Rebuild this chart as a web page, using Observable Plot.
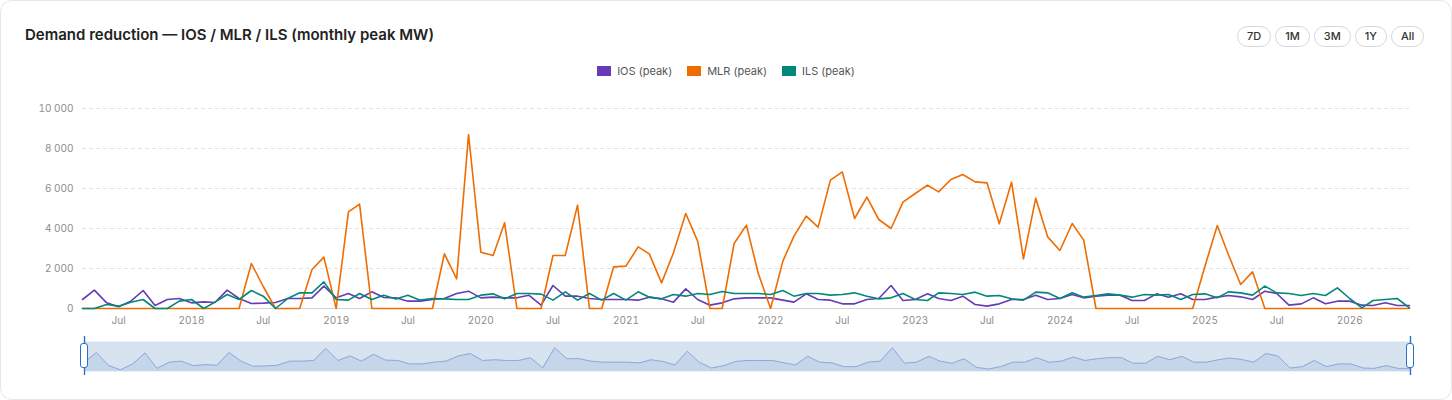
<!DOCTYPE html>
<html><head><meta charset="utf-8">
<script src="https://cdn.jsdelivr.net/npm/d3@7"></script>
<script src="https://cdn.jsdelivr.net/npm/@observablehq/plot@0.6"></script>
<style>
html,body{margin:0;padding:0;background:#fff;}
body{width:1452px;height:400px;overflow:hidden;font-family:Inter,"Noto Sans",sans-serif;position:relative;}
#card{position:absolute;left:0;top:0;width:1450px;height:398px;border:1px solid #e6e6e6;border-radius:12px;background:#fff;}
#title{position:absolute;left:25px;top:25px;font-size:15px;font-weight:600;color:#222;letter-spacing:0;}
#btns{position:absolute;left:1237px;top:26px;display:flex;gap:4px;}
.btn{height:19px;line-height:19px;padding:0 9px;border:1px solid #d6d6da;border-radius:11px;font-size:11px;color:#333;font-weight:500;}
#legend{position:absolute;top:64px;left:0;width:1452px;display:flex;justify-content:center;gap:15px;font-size:11px;color:#555;}
.sw{display:inline-block;width:14px;height:10px;margin-right:6px;vertical-align:-1px;}
#main{position:absolute;left:0;top:90px;}
#nav{position:absolute;left:0;top:334px;}
.handle{position:absolute;top:343px;width:6px;height:23px;background:#fff;border:1.5px solid #2a73c0;border-radius:3px;}
</style>
</head><body>
<div id="card"></div>
<div id="title">Demand reduction — IOS / MLR / ILS (monthly peak MW)</div>
<div id="btns"><div class="btn">7D</div><div class="btn">1M</div><div class="btn">3M</div><div class="btn">1Y</div><div class="btn">All</div></div>
<div id="legend"></div>
<div id="main"></div>
<div id="nav"></div>
<div class="handle" style="left:80px"></div>
<div class="handle" style="left:1406px"></div>
<script>
// ---- data (monthly, Apr 2017 .. Jun 2026) ----
const startMonth = "2017-04-01";
const endMonth = "2026-07-01";
const seriesNames = ["IOS (peak)", "MLR (peak)", "ILS (peak)"];
const seriesColors = ["#673ab7", "#ef6c00", "#00897b"];
const iosValues = [
  450, 917, 283, 83, 367, 900, 150, 450, 500, 283, 333, 300, 917, 500, 250, 267, 300, 500, 500, 533, 1117, 533, 750, 500, 833, 550, 533,
  367, 367, 450, 500, 750, 867, 533, 567, 533, 533, 667, 167, 1150, 617, 617, 500, 450, 450, 450, 417, 567, 483, 317, 983, 450, 167, 283,
  483, 533, 533, 533, 417, 317, 733, 450, 417, 233, 233, 450, 500, 1150, 400, 450, 733, 500, 400, 617, 200, 117, 233, 450, 450, 667,
  450, 500, 700, 533, 617, 667, 667, 400, 400, 733, 567, 733, 450, 450, 567, 650, 583, 450, 867, 750, 167, 233, 533, 233, 367, 367, 167, 150, 283, 150, 150
];
const mlrValues = [
  0, 0, 0, 0, 0, 0, 0, 0, 0, 0, 0, 0, 0, 0, 2250, 1100, 0, 0, 0, 1950, 2567, 0, 4833, 5217, 0, 0, 0,
  0, 0, 0, 2733, 1483, 8700, 2817, 2650, 4283, 0, 0, 0, 2650, 2650, 5167, 0, 0, 2083, 2117, 3083, 2733, 1283, 2783, 4750, 3367, 0, 0,
  3250, 4167, 1750, 0, 2367, 3617, 4617, 4067, 6417, 6833, 4500, 5567, 4450, 4000, 5317, 5750, 6167, 5833, 6450, 6700, 6333, 6283, 4233, 6317, 2483, 5517,
  3583, 2900, 4250, 3417, 0, 0, 0, 0, 0, 0, 0, 0, 0, 2117, 4150, 2700, 1200, 1833, 0, 0, 0, 0, 0, 0, 0, 0, 0, 0, 0, 0, 0
];
const ilsValues = [
  0, 0, 200, 117, 317, 450, 0, 0, 367, 450, 0, 317, 700, 450, 900, 617, 0, 500, 783, 783, 1333, 450, 417, 750, 450, 660, 470,
  667, 417, 500, 483, 450, 450, 667, 733, 483, 750, 750, 717, 417, 833, 417, 750, 417, 750, 417, 833, 567, 483, 700, 617, 750, 700, 850,
  750, 750, 750, 700, 900, 617, 750, 750, 667, 700, 783, 617, 483, 533, 750, 450, 400, 783, 750, 700, 817, 617, 650, 483, 417, 817,
  783, 500, 783, 567, 650, 733, 667, 567, 700, 667, 700, 450, 700, 733, 533, 833, 783, 667, 1117, 783, 750, 650, 750, 650, 1033, 500, 33, 400, 450, 500, 33
];
const yTicks = [0, 2000, 4000, 6000, 8000, 10000];

// ---- build ----
const months = d3.utcMonth.range(new Date(startMonth), new Date(endMonth));
const valuesBySeries = [iosValues, mlrValues, ilsValues];
const rows = seriesNames.map((s, k) => months.map((d, i) => ({date: d, value: valuesBySeries[k][i], series: s})));
const xDomain = [months[0], months[months.length - 1]];
const xTicks = months.filter(d => d.getUTCMonth() === 0 || d.getUTCMonth() === 6);
const xFmt = d => d.getUTCMonth() === 0 ? String(d.getUTCFullYear()) : "Jul";
const yFmt = d => d3.format(",")(d).replace(/,/g, " ");

// legend
const leg = document.getElementById("legend");
seriesNames.forEach((s, k) => {
  const it = document.createElement("div");
  it.innerHTML = `<span class="sw" style="background:${seriesColors[k]}"></span>${s}`;
  leg.appendChild(it);
});

const main = Plot.plot({
  width: 1452, height: 245,
  marginLeft: 82, marginRight: 43, marginTop: 18, marginBottom: 27,
  style: {fontFamily: "Inter, sans-serif", fontSize: "10px", color: "#8c8c8c", background: "transparent", overflow: "visible"},
  x: {type: "utc", domain: xDomain, ticks: xTicks, tickFormat: xFmt, tickSize: 0, tickPadding: 8, label: null},
  y: {domain: [0, 10000], ticks: yTicks, tickFormat: yFmt, tickSize: 0, tickPadding: 9, label: null},
  marks: [
    Plot.gridY(yTicks.filter(d => d > 0), {stroke: "#e2e2e2", strokeOpacity: 1, strokeDasharray: "4,3"}),
    Plot.ruleY([0], {stroke: "#d2d2d2"}),
    ...rows.map((r, k) => Plot.lineY(r, {x: "date", y: "value", stroke: seriesColors[k], strokeWidth: 1.6}))
  ]
});
document.getElementById("main").appendChild(main);

const nav = Plot.plot({
  width: 1452, height: 44,
  marginLeft: 84, marginRight: 42, marginTop: 7, marginBottom: 7,
  style: {background: "transparent", overflow: "visible"},
  x: {type: "utc", domain: xDomain, axis: null},
  y: {domain: [0, 1450], axis: null},
  marks: [
    Plot.frame({fill: "#d7e4f0", stroke: "none"}),
    Plot.areaY(rows[0], {x: "date", y: "value", fill: "#c5d6ea"}),
    Plot.lineY(rows[0], {x: "date", y: "value", stroke: "#8ea8d8", strokeWidth: 1}),
    Plot.ruleX(xDomain, {stroke: "#2a73c0", strokeWidth: 1.4, insetTop: -5, insetBottom: -4})
  ]
});
document.getElementById("nav").appendChild(nav);
</script>
</body></html>
